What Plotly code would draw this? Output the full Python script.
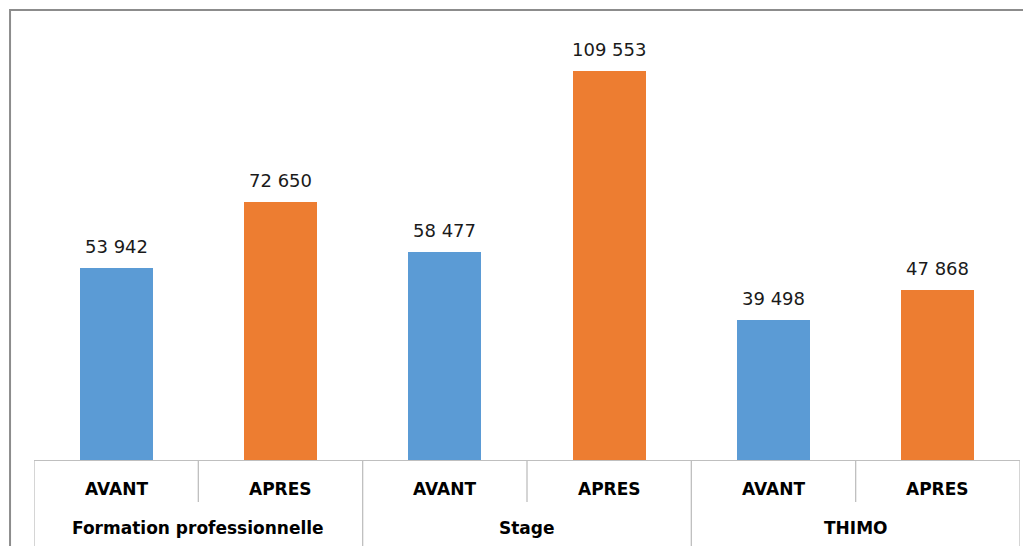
import plotly.graph_objects as go

groups = ["Formation professionnelle", "Stage", "THIMO"]
phases = ["AVANT", "APRES"]
avant = [53942, 58477, 39498]
apres = [72650, 109553, 47868]

blue = "#5B9BD5"
orange = "#ED7D31"
grid = "#BFBFBF"

xs, ys, cols, phase_lbl = [], [], [], []
for i, g in enumerate(groups):
    for j, (p, v) in enumerate(zip(phases, [avant[i], apres[i]])):
        xs.append(2 * i + j)
        ys.append(v)
        cols.append(blue if j == 0 else orange)
        phase_lbl.append(p)

def fmt(v):
    return f"{v:,}".replace(",", " ")

fig = go.Figure()
fig.add_trace(go.Bar(x=xs, y=ys, marker=dict(color=cols, line=dict(width=0)),
                     width=0.444, hoverinfo="skip", showlegend=False))

annotations = []
for x, y in zip(xs, ys):
    annotations.append(dict(x=x, y=y, xref="x", yref="y", text=fmt(y), showarrow=False,
                            yanchor="bottom", yshift=9,
                            font=dict(family="DejaVu Sans", size=18, color="#1a1a1a")))
for x, p in zip(xs, phase_lbl):
    annotations.append(dict(x=x, y=-0.0644, xref="x", yref="paper", text=f"<b>{p}</b>",
                            showarrow=False, yanchor="middle",
                            font=dict(family="DejaVu Sans", size=17, color="#000000")))
for i, g in enumerate(groups):
    annotations.append(dict(x=2 * i + 0.5, y=-0.151, xref="x", yref="paper", text=f"<b>{g}</b>",
                            showarrow=False, yanchor="middle",
                            font=dict(family="DejaVu Sans", size=17, color="#000000")))

shapes = []
# outer frame of the chart
shapes.append(dict(type="rect", xref="paper", yref="paper", x0=-0.0243, x1=1.2, y0=-0.4, y1=1.0,
                   line=dict(color="#8C8C8C", width=2), layer="below"))
# table lines
for k in range(len(groups) + 1):
    shapes.append(dict(type="line", xref="x", yref="paper", x0=2 * k - 0.5, x1=2 * k - 0.5,
                       y0=-0.3, y1=0, line=dict(color=grid, width=1.3)))
for k in range(len(groups)):
    shapes.append(dict(type="line", xref="x", yref="paper", x0=2 * k + 0.5, x1=2 * k + 0.5,
                       y0=-0.0933, y1=0, line=dict(color=grid, width=1.3)))

fig.update_layout(
    width=1023, height=538,
    margin=dict(l=26, r=11, t=2, b=86),
    paper_bgcolor="white", plot_bgcolor="white",
    xaxis=dict(range=[-0.5, 5.5], showticklabels=False, showgrid=False, zeroline=False,
               showline=True, linecolor=grid, linewidth=1.3, ticks=""),
    yaxis=dict(range=[0, 126733], visible=False, showgrid=False, zeroline=False),
    annotations=annotations,
    shapes=shapes,
    bargap=0,
)

fig.write_html("out.html")
